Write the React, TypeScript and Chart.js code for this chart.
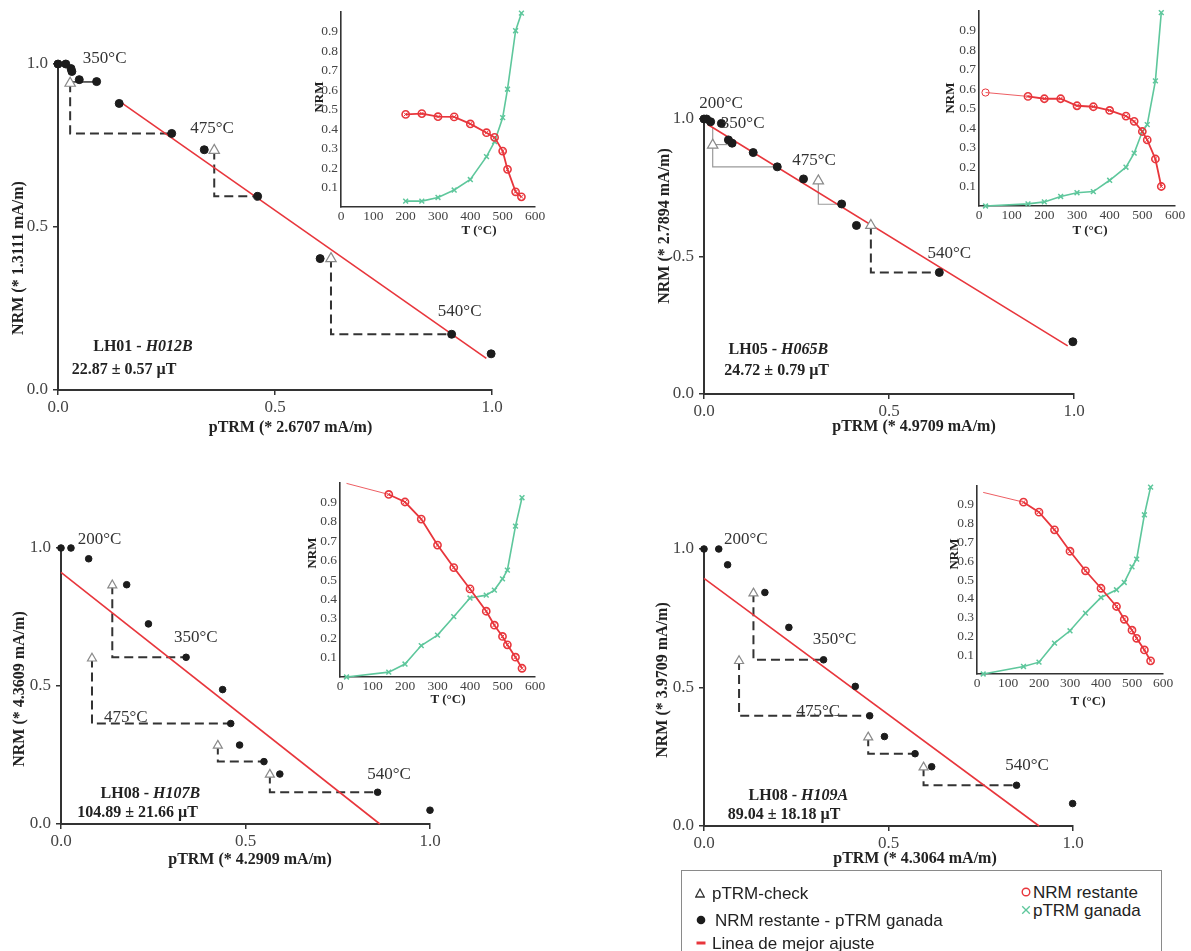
import React, { useEffect, useRef } from 'react';
import { Chart, registerables } from 'chart.js';
Chart.register(...registerables);

const RED = '#e8363c';
const GREEN = '#5ec79c';
const AXIS = '#333333';
const TICK = '#444444';
const SERIF = '"Liberation Serif", "Times New Roman", serif';
const SANS = '"Liberation Sans", Arial, sans-serif';

// ---------- Arai plot A : LH01 - H012B ----------
const A_PTRM = [0, 0.018, 0.030, 0.032, 0.049, 0.089, 0.141, 0.262, 0.337, 0.460, 0.604, 0.907, 0.998];
const A_NRM = [1.0, 1.0, 0.986, 0.977, 0.952, 0.946, 0.879, 0.787, 0.737, 0.594, 0.403, 0.171, 0.111];
const A_CHECK_X = [0.028, 0.360, 0.629];
const A_CHECK_Y = [0.941, 0.735, 0.403];
const A_CHECK_TO_X = [0.262, 0.460, 0.907];
const A_CHECK_TO_Y = [0.787, 0.594, 0.171];
const A_CHECK_STYLE = ['dash', 'dash', 'dash'];
const A_EXTRA_X = [[0.028, 0.089]];
const A_EXTRA_Y = [[0.945, 0.945]];
const A_FIT_X = [0.145, 0.987];
const A_FIT_Y = [0.882, 0.097];

// ---------- Arai plot B : LH05 - H065B ----------
const B_PTRM = [0, 0.007, 0.018, 0.047, 0.066, 0.076, 0.133, 0.198, 0.269, 0.372, 0.412, 0.636, 0.997];
const B_NRM = [1.0, 1.0, 0.99, 0.984, 0.924, 0.912, 0.878, 0.826, 0.782, 0.691, 0.613, 0.442, 0.19];
const B_CHECK_X = [0.0235, 0.309, 0.451];
const B_CHECK_Y = [0.905, 0.775, 0.613];
const B_CHECK_TO_X = [0.198, 0.372, 0.636];
const B_CHECK_TO_Y = [0.826, 0.69, 0.442];
const B_CHECK_STYLE = ['grey', 'grey', 'dash'];
const B_EXTRA_X = [[0.0235, 0.0235], [0.0235, 0.066]];
const B_EXTRA_Y = [[0.97, 0.905], [0.907, 0.907]];
const B_FIT_X = [0.009, 0.983];
const B_FIT_Y = [0.981, 0.175];

// ---------- Arai plot C : LH08 - H107B ----------
const C_PTRM = [0, 0.027, 0.075, 0.178, 0.237, 0.339, 0.438, 0.460, 0.484, 0.550, 0.593, 0.858, 1.0];
const C_NRM = [1.0, 1.0, 0.961, 0.867, 0.725, 0.604, 0.487, 0.364, 0.286, 0.226, 0.181, 0.115, 0.050];
const C_CHECK_X = [0.139, 0.084, 0.425, 0.566];
const C_CHECK_Y = [0.865, 0.600, 0.284, 0.179];
const C_CHECK_TO_X = [0.339, 0.460, 0.550, 0.858];
const C_CHECK_TO_Y = [0.604, 0.364, 0.226, 0.115];
const C_CHECK_STYLE = ['dash', 'dash', 'dash', 'dash'];
const C_FIT_X = [0, 0.864];
const C_FIT_Y = [0.912, 0];

// ---------- Arai plot D : LH08 - H109A ----------
const D_PTRM = [0, 0.04, 0.064, 0.165, 0.23, 0.324, 0.41, 0.449, 0.489, 0.572, 0.617, 0.847, 0.999];
const D_NRM = [1.0, 1.0, 0.943, 0.843, 0.717, 0.6, 0.504, 0.398, 0.323, 0.261, 0.214, 0.147, 0.081];
const D_CHECK_X = [0.134, 0.095, 0.445, 0.595];
const D_CHECK_Y = [0.84, 0.596, 0.32, 0.212];
const D_CHECK_TO_X = [0.324, 0.449, 0.572, 0.847];
const D_CHECK_TO_Y = [0.6, 0.398, 0.261, 0.147];
const D_CHECK_STYLE = ['dash', 'dash', 'dash', 'dash'];
const D_FIT_X = [0, 0.908];
const D_FIT_Y = [0.894, 0];

// ---------- Insets (T in °C, normalised moments) ----------
const IA_T = [200, 250, 300, 350, 400, 450, 475, 500, 515, 540, 558];
const IA_NRM = [0.475, 0.479, 0.463, 0.462, 0.426, 0.381, 0.357, 0.287, 0.193, 0.078, 0.052];
const IA_PTRM = [0.030, 0.030, 0.049, 0.087, 0.141, 0.258, 0.335, 0.458, 0.604, 0.904, 0.994];

const IB_T = [20, 150, 200, 250, 300, 350, 400, 450, 475, 500, 515, 540, 558];
const IB_NRM = [0.582, 0.562, 0.550, 0.550, 0.514, 0.509, 0.490, 0.461, 0.434, 0.382, 0.339, 0.241, 0.100];
const IB_PTRM = [0.0, 0.011, 0.021, 0.049, 0.068, 0.074, 0.132, 0.199, 0.271, 0.382, 0.417, 0.642, 0.992];

const IC_T = [20, 150, 200, 250, 300, 350, 400, 450, 475, 500, 515, 540, 560];
const IC_NRM = [0.998, 0.941, 0.902, 0.814, 0.680, 0.564, 0.454, 0.339, 0.267, 0.209, 0.166, 0.102, 0.045];
const IC_PTRM = [0, 0.025, 0.067, 0.162, 0.216, 0.311, 0.407, 0.422, 0.448, 0.506, 0.551, 0.778, 0.924];

const ID_T = [20, 150, 200, 250, 300, 350, 400, 450, 475, 500, 515, 540, 560];
const ID_NRM = [0.966, 0.914, 0.861, 0.767, 0.653, 0.549, 0.456, 0.359, 0.291, 0.233, 0.190, 0.128, 0.070];
const ID_PTRM = [0, 0.040, 0.063, 0.164, 0.230, 0.324, 0.407, 0.448, 0.487, 0.570, 0.611, 0.847, 0.994];

const MAIN_TICKS = [0, 0.5, 1.0];

type Rect = [number, number, number, number];
const zip = (xs: number[], ys: number[]) => xs.map((x, i) => ({ x, y: ys[i] }));

function axis(min: number, max: number, step: number, fmt: (v: number) => string, fontSize: number,
  tickLen: number, pad: number, size: number, horizontal: boolean, borderW: number) {
  return {
    type: 'linear', min, max,
    ticks: { stepSize: step, callback: (v: any) => fmt(Number(v)), font: { family: SERIF, size: fontSize }, color: TICK, padding: pad, autoSkip: false, maxRotation: 0, minRotation: 0 },
    grid: { display: true, drawOnChartArea: false, drawTicks: tickLen > 0, tickLength: tickLen, color: AXIS, lineWidth: 1.5 },
    border: { display: true, color: AXIS, width: borderW },
    afterFit: (s: any) => {
      if (horizontal) s.height = size; else s.width = size;
      s.paddingLeft = 0; s.paddingRight = 0; s.paddingTop = 0; s.paddingBottom = 0;
    },
  };
}

type MainSpec = {
  rect: Rect; ptrm: number[]; nrm: number[]; cx: number[]; cy: number[]; tx: number[]; ty: number[];
  styles: string[]; ex?: number[][]; ey?: number[][]; fitX: number[]; fitY: number[]; ptR: number; triR: number;
};

const MAIN_PAD = { wy: 55, top: 20, right: 20, hx: 30 };
const INSET_PAD = { wy: 30, top: 8, right: 12, hx: 20 };

function mainConfig(s: MainSpec): any {
  const ds: any[] = [];
  ds.push({ data: zip(s.ptrm, s.nrm), pointStyle: 'circle', pointRadius: s.ptR, pointBackgroundColor: '#1c1c1c', pointBorderColor: '#1c1c1c', showLine: false, order: 0, clip: false });
  ds.push({ data: zip(s.cx, s.cy), pointStyle: 'triangle', pointRadius: s.triR, pointBackgroundColor: '#ffffff', pointBorderColor: '#8a8a8a', pointBorderWidth: 1.2, showLine: false, order: 1, clip: false });
  s.cx.forEach((x, i) => {
    const st = s.styles[i];
    ds.push({
      data: [{ x, y: s.cy[i] }, { x, y: s.ty[i] }, { x: s.tx[i], y: s.ty[i] }],
      showLine: true, pointRadius: 0, borderColor: st === 'grey' ? '#9a9a9a' : '#333333',
      borderWidth: st === 'grey' ? 1.2 : 2, borderDash: st === 'dash' ? [9, 5] : [], order: 3, clip: false,
    });
  });
  (s.ex || []).forEach((xs, i) => {
    ds.push({ data: zip(xs, s.ey![i]), showLine: true, pointRadius: 0, borderColor: s.styles[0] === 'grey' ? '#9a9a9a' : '#333333', borderWidth: s.styles[0] === 'grey' ? 1.2 : 1.5, order: 3, clip: false });
  });
  ds.push({ data: zip(s.fitX, s.fitY), showLine: true, pointRadius: 0, borderColor: RED, borderWidth: 1.6, order: 2, clip: false });
  const f1 = (v: number) => (MAIN_TICKS.some(t => Math.abs(t - v) < 1e-6) ? v.toFixed(1) : '');
  return {
    type: 'scatter',
    data: { datasets: ds },
    options: {
      responsive: false, animation: false, devicePixelRatio: 1,
      layout: { padding: { top: MAIN_PAD.top, right: MAIN_PAD.right, left: 0, bottom: 0 } },
      plugins: { legend: { display: false }, tooltip: { enabled: false }, title: { display: false } },
      elements: { line: { tension: 0 } },
      scales: {
        x: axis(0, 1, 0.5, f1, 17, 5, 2, MAIN_PAD.hx, true, 2),
        y: axis(0, 1, 0.5, f1, 17, 5, 5, MAIN_PAD.wy, false, 2),
      },
    },
  };
}

type InsetSpec = { rect: Rect; t: number[]; nrm: number[]; ptrm: number[]; firstMode: 'none' | 'thin' | 'hidden' };

function insetConfig(s: InsetSpec): any {
  const hiddenFirst = s.firstMode === 'hidden';
  const thinFirst = s.firstMode !== 'none';
  const redRadius = s.t.map((_, i) => (i === 0 && hiddenFirst ? 0 : 3.6));
  const redBW = s.t.map((_, i) => (i === 0 && thinFirst ? 1 : 1.6));
  const crossR = s.t.map((_, i) => (i === 0 && thinFirst ? 0 : 2.6));
  const fmtY = (v: number) => (v < 0.05 || v > 0.95 ? '' : v.toFixed(1));
  return {
    type: 'scatter',
    data: {
      datasets: [
        {
          data: zip(s.t, s.nrm), showLine: true, pointStyle: 'circle', pointRadius: redRadius, pointBorderWidth: redBW,
          pointBackgroundColor: 'rgba(255,255,255,0)', pointBorderColor: RED, borderColor: RED, borderWidth: 1.8, order: 1, clip: false,
          segment: {
            borderWidth: (c: any) => (thinFirst && c.p0DataIndex === 0 ? 1 : 1.8),
            borderColor: (c: any) => (thinFirst && c.p0DataIndex === 0 ? 'rgba(232,54,60,0.8)' : RED),
          },
        },
        { data: zip(s.t, s.nrm), showLine: false, pointStyle: 'crossRot', pointRadius: crossR, pointBorderColor: RED, pointBorderWidth: 1, order: 0, clip: false },
        {
          data: zip(s.t, s.ptrm), showLine: true, pointStyle: 'crossRot', pointRadius: 3.4, pointBorderWidth: 1.5,
          pointBorderColor: GREEN, borderColor: GREEN, borderWidth: 1.6, order: 2, clip: false,
        },
      ],
    },
    options: {
      responsive: false, animation: false, devicePixelRatio: 1,
      layout: { padding: { top: INSET_PAD.top, right: INSET_PAD.right, left: 0, bottom: 0 } },
      plugins: { legend: { display: false }, tooltip: { enabled: false }, title: { display: false } },
      elements: { line: { tension: 0 } },
      scales: {
        x: axis(0, 600, 100, (v) => String(Math.round(v)), 13.5, 0, 1, INSET_PAD.hx, true, 1.6),
        y: axis(0, 1, 0.1, fmtY, 13.5, 0, 3, INSET_PAD.wy, false, 1.6),
      },
    },
  };
}

function ChartBox({ rect, pad, config }: { rect: Rect; pad: typeof MAIN_PAD; config: () => any }) {
  const ref = useRef<HTMLCanvasElement>(null);
  const [L, T, R, B] = rect.map(Math.round);
  const left = L - pad.wy;
  const top = T - pad.top;
  const w = R - L + pad.wy + pad.right;
  const h = B - T + pad.top + pad.hx;
  useEffect(() => {
    const ch = new Chart(ref.current as HTMLCanvasElement, config());
    return () => ch.destroy();
  }, []);
  return <canvas ref={ref} width={w} height={h} style={{ position: 'absolute', left, top, width: w, height: h }} />;
}

function Txt(props: { x: number; y: number; size?: number; bold?: boolean; rot?: number; color?: string; font?: string; anchor?: 'c' | 'l'; children: any }) {
  const { x, y, size = 17, bold = false, rot = 0, color = '#333', font = SERIF, anchor = 'c', children } = props;
  const tr = anchor === 'c' ? `translate(-50%,-50%) rotate(${rot}deg)` : 'translate(0,-50%)';
  return (
    <div style={{ position: 'absolute', left: x, top: y, transform: tr, fontFamily: font, fontSize: size, fontWeight: bold ? 700 : 400, color, whiteSpace: 'nowrap', lineHeight: 1 }}>
      {children}
    </div>
  );
}

function Sym({ x, y, kind }: { x: number; y: number; kind: 'tri' | 'dot' | 'ring' | 'cross' | 'dash' }) {
  const s = 10;
  let inner: any = null;
  if (kind === 'tri') inner = <polygon points="5,1 9.3,9 0.7,9" fill="#fff" stroke="#333" strokeWidth="1.3" />;
  if (kind === 'dot') inner = <circle cx="5" cy="5" r="4.3" fill="#1c1c1c" />;
  if (kind === 'ring') inner = <circle cx="5" cy="5" r="3.8" fill="none" stroke={RED} strokeWidth="1.4" />;
  if (kind === 'cross') inner = <g stroke={GREEN} strokeWidth="1.3"><line x1="1.2" y1="1.2" x2="8.8" y2="8.8" /><line x1="8.8" y1="1.2" x2="1.2" y2="8.8" /></g>;
  if (kind === 'dash') inner = <line x1="0.5" y1="5" x2="9.5" y2="5" stroke={RED} strokeWidth="3" />;
  return (
    <svg width={s} height={s} viewBox="0 0 10 10" style={{ position: 'absolute', left: x - 5, top: y - 5 }}>{inner}</svg>
  );
}

const MAINS: MainSpec[] = [
  { rect: [58, 64.3, 491.7, 390], ptrm: A_PTRM, nrm: A_NRM, cx: A_CHECK_X, cy: A_CHECK_Y, tx: A_CHECK_TO_X, ty: A_CHECK_TO_Y, styles: A_CHECK_STYLE, ex: A_EXTRA_X, ey: A_EXTRA_Y, fitX: A_FIT_X, fitY: A_FIT_Y, ptR: 4, triR: 6 },
  { rect: [704, 119, 1074, 394.3], ptrm: B_PTRM, nrm: B_NRM, cx: B_CHECK_X, cy: B_CHECK_Y, tx: B_CHECK_TO_X, ty: B_CHECK_TO_Y, styles: B_CHECK_STYLE, ex: B_EXTRA_X, ey: B_EXTRA_Y, fitX: B_FIT_X, fitY: B_FIT_Y, ptR: 4, triR: 6 },
  { rect: [61, 548.3, 430, 824.3], ptrm: C_PTRM, nrm: C_NRM, cx: C_CHECK_X, cy: C_CHECK_Y, tx: C_CHECK_TO_X, ty: C_CHECK_TO_Y, styles: C_CHECK_STYLE, fitX: C_FIT_X, fitY: C_FIT_Y, ptR: 3.3, triR: 5.2 },
  { rect: [704.3, 549.3, 1073.3, 826], ptrm: D_PTRM, nrm: D_NRM, cx: D_CHECK_X, cy: D_CHECK_Y, tx: D_CHECK_TO_X, ty: D_CHECK_TO_Y, styles: D_CHECK_STYLE, fitX: D_FIT_X, fitY: D_FIT_Y, ptR: 3.3, triR: 5.2 },
];

const INSETS: InsetSpec[] = [
  { rect: [341, 12.2, 535.3, 207], t: IA_T, nrm: IA_NRM, ptrm: IA_PTRM, firstMode: 'none' },
  { rect: [979, 11.2, 1175, 206.2], t: IB_T, nrm: IB_NRM, ptrm: IB_PTRM, firstMode: 'thin' },
  { rect: [340, 482.9, 535, 677.3], t: IC_T, nrm: IC_NRM, ptrm: IC_PTRM, firstMode: 'hidden' },
  { rect: [976.7, 486.2, 1163, 674.1], t: ID_T, nrm: ID_NRM, ptrm: ID_PTRM, firstMode: 'hidden' },
];

const TEMP_LABELS: [string, number, number][] = [
  ['350°C', 104.7, 57], ['475°C', 212, 126.5], ['540°C', 459.7, 310],
  ['200°C', 721, 102], ['350°C', 742.7, 122], ['475°C', 814, 159], ['540°C', 949.3, 252],
  ['200°C', 99.5, 538.3], ['350°C', 195.8, 636.3], ['475°C', 125.8, 716], ['540°C', 389, 772.5],
  ['200°C', 745.8, 538.3], ['350°C', 834.5, 638], ['475°C', 818.3, 710], ['540°C', 1027, 764],
];

const SITES: [string, string, string, number, number, number, number][] = [
  ['LH01 - ', 'H012B', '22.87 ± 0.57 µT', 143, 346, 124, 369],
  ['LH05 - ', 'H065B', '24.72 ± 0.79 µT', 778.3, 349, 776.7, 369.5],
  ['LH08 - ', 'H107B', '104.89 ± 21.66 µT', 150.3, 793.3, 137.5, 811.7],
  ['LH08 - ', 'H109A', '89.04 ± 18.18 µT', 798.3, 795, 784, 813.7],
];

const Y_TITLES: [string, number, number][] = [
  ['NRM (* 1.3111 mA/m)', 18, 258],
  ['NRM (* 2.7894 mA/m)', 664, 226],
  ['NRM (* 4.3609 mA/m)', 19, 688.7],
  ['NRM (* 3.9709 mA/m)', 661.7, 680],
];
const X_TITLES: [string, number, number][] = [
  ['pTRM (* 2.6707 mA/m)', 290.5, 427],
  ['pTRM (* 4.9709 mA/m)', 914, 425.7],
  ['pTRM (* 4.2909 mA/m)', 250, 859],
  ['pTRM (* 4.3064 mA/m)', 915, 857.5],
];
const INSET_TITLES: [number, number, number, number][] = [
  [318, 96.7, 479, 229],
  [948.5, 97.5, 1090, 229],
  [311, 553, 448, 698],
  [953, 554, 1088, 700],
];

export default function App() {
  return (
    <div style={{ position: 'fixed', left: 0, top: 0, width: 1191, height: 951, overflow: 'hidden', background: '#fff' }}>
      {MAINS.map((m, i) => <ChartBox key={'m' + i} rect={m.rect} pad={MAIN_PAD} config={() => mainConfig(m)} />)}
      {INSETS.map((s, i) => <ChartBox key={'i' + i} rect={s.rect} pad={INSET_PAD} config={() => insetConfig(s)} />)}

      {TEMP_LABELS.map(([t, x, y], i) => <Txt key={'t' + i} x={x} y={y} size={17} color="#333">{t}</Txt>)}
      {SITES.map(([a, b, c, x1, y1, x2, y2], i) => (
        <React.Fragment key={'s' + i}>
          <Txt x={x1} y={y1} size={16} bold color="#222">{a}<i>{b}</i></Txt>
          <Txt x={x2} y={y2} size={16} bold color="#222">{c}</Txt>
        </React.Fragment>
      ))}
      {Y_TITLES.map(([t, x, y], i) => <Txt key={'y' + i} x={x} y={y} size={16} bold rot={-90} color="#222">{t}</Txt>)}
      {X_TITLES.map(([t, x, y], i) => <Txt key={'x' + i} x={x} y={y} size={16} bold color="#222">{t}</Txt>)}
      {INSET_TITLES.map(([x1, y1, x2, y2], i) => (
        <React.Fragment key={'it' + i}>
          <Txt x={x1} y={y1} size={13} bold rot={-90} color="#222">NRM</Txt>
          <Txt x={x2} y={y2} size={13} bold color="#222">T (°C)</Txt>
        </React.Fragment>
      ))}

      <div style={{ position: 'absolute', left: 681, top: 870, width: 481, height: 100, border: '1px solid #8a8a8a', boxSizing: 'border-box' }} />
      <Sym x={700} y={893} kind="tri" />
      <Txt x={712} y={893} size={17} color="#222" font={SANS} anchor="l">pTRM-check</Txt>
      <Sym x={701} y={920} kind="dot" />
      <Txt x={715} y={920} size={17} color="#222" font={SANS} anchor="l">NRM restante - pTRM ganada</Txt>
      <Sym x={701} y={943} kind="dash" />
      <Txt x={712} y={943} size={17} color="#222" font={SANS} anchor="l">Linea de mejor ajuste</Txt>
      <Sym x={1026} y={892} kind="ring" />
      <Txt x={1033} y={892} size={17} color="#222" font={SANS} anchor="l">NRM restante</Txt>
      <Sym x={1026} y={909.5} kind="cross" />
      <Txt x={1033} y={909.5} size={17} color="#222" font={SANS} anchor="l">pTRM ganada</Txt>
    </div>
  );
}
